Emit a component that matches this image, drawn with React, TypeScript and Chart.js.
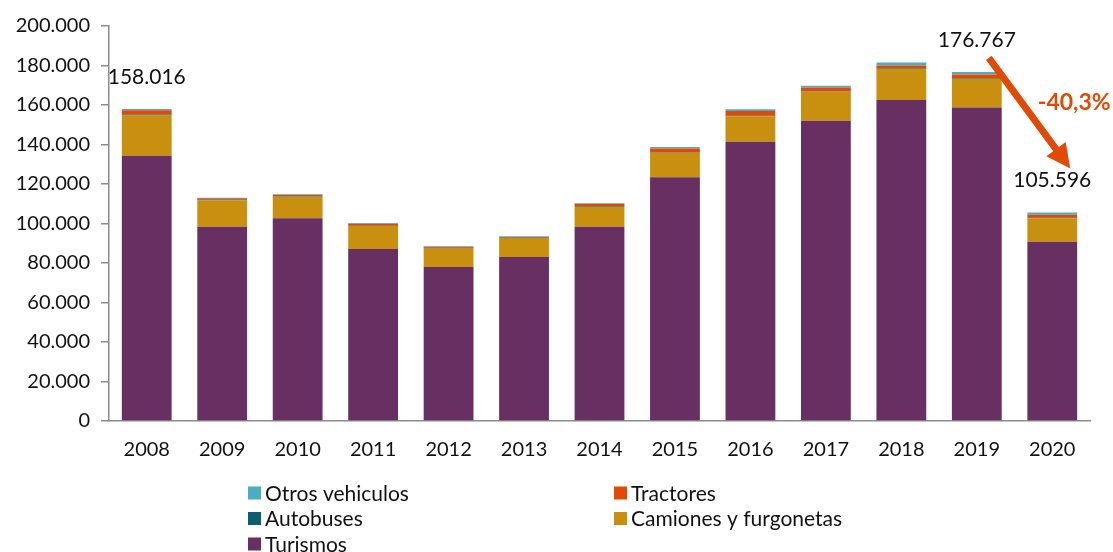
import React, { useEffect, useRef } from "react";
import { Chart, registerables } from "chart.js";

Chart.register(...registerables);

const years = ["2008", "2009", "2010", "2011", "2012", "2013", "2014", "2015", "2016", "2017", "2018", "2019", "2020"];
const turismos = [134300, 98400, 102600, 87100, 78000, 83000, 98400, 123400, 141400, 152000, 162500, 158700, 90800];
const camiones = [20400, 13400, 11000, 11600, 9600, 9700, 10100, 12400, 12900, 14800, 15800, 14600, 11800];
const autobuses = [500, 300, 200, 200, 200, 200, 300, 300, 300, 300, 400, 400, 300];
const tractores = [2100, 700, 600, 1000, 500, 400, 1100, 1900, 2300, 1700, 1300, 1800, 1500];
const otros = [716, 200, 400, 300, 200, 200, 400, 700, 1000, 1000, 1500, 1267, 1196];
const yTicks = [0, 20000, 40000, 60000, 80000, 100000, 120000, 140000, 160000, 180000, 200000];
const labelledYears = ["2008", "2019", "2020"];
const changeLabel = "-40,3%";

const COLORS = {
  turismos: "#672F62",
  camiones: "#C8900E",
  autobuses: "#0B5E6E",
  tractores: "#E04A06",
  otros: "#4BACC6",
};
const FONT = "Lato, 'Open Sans', sans-serif";

const fmt = (v: number) => String(Math.round(v)).replace(/\B(?=(\d{3})+(?!\d))/g, ".");

const legendItems = [
  { label: "Otros vehiculos", color: COLORS.otros },
  { label: "Tractores", color: COLORS.tractores },
  { label: "Autobuses", color: COLORS.autobuses },
  { label: "Camiones y furgonetas", color: COLORS.camiones },
  { label: "Turismos", color: COLORS.turismos },
];

const totals = years.map((_, i) => turismos[i] + camiones[i] + autobuses[i] + tractores[i] + otros[i]);

const overlayPlugin = {
  id: "overlay",
  afterDraw(chart: any) {
    const ctx = chart.ctx;
    const xs = chart.scales.x;
    const ys = chart.scales.y;
    ctx.save();
    ctx.font = `21px ${FONT}`;
    ctx.fillStyle = "#111";
    ctx.textAlign = "center";
    ctx.textBaseline = "middle";
    const pos: Record<string, { x: number; y: number }> = {};
    labelledYears.forEach((yr) => {
      const i = years.indexOf(yr);
      const x = xs.getPixelForValue(i);
      const y = ys.getPixelForValue(totals[i]) - 32;
      pos[yr] = { x, y };
      ctx.fillText(fmt(totals[i]), x, y);
    });
    // arrow
    const a = pos["2019"], b = pos["2020"];
    const x1 = a.x + 12, y1 = a.y + 18;
    const x2 = b.x + 18, y2 = b.y - 12;
    const ang = Math.atan2(y2 - y1, x2 - x1);
    const headLen = 24, headW = 12, shaft = 3.5;
    const bx = x2 - headLen * Math.cos(ang), by = y2 - headLen * Math.sin(ang);
    const nx = -Math.sin(ang), ny = Math.cos(ang);
    ctx.fillStyle = COLORS.tractores;
    ctx.beginPath();
    ctx.moveTo(x1 + nx * shaft, y1 + ny * shaft);
    ctx.lineTo(bx + nx * shaft, by + ny * shaft);
    ctx.lineTo(bx + nx * headW, by + ny * headW);
    ctx.lineTo(x2, y2);
    ctx.lineTo(bx - nx * headW, by - ny * headW);
    ctx.lineTo(bx - nx * shaft, by - ny * shaft);
    ctx.lineTo(x1 - nx * shaft, y1 - ny * shaft);
    ctx.closePath();
    ctx.fill();
    ctx.font = `bold 23px ${FONT}`;
    ctx.fillText(changeLabel, b.x + 22, a.y + 63);

    // legend
    ctx.textAlign = "left";
    ctx.font = `21px ${FONT}`;
    const colX = [248, 614];
    const rowY = [493, 518.5, 544];
    const box = 13;
    legendItems.forEach((it, k) => {
      const cx = colX[k % 2];
      const cy = rowY[Math.floor(k / 2)];
      ctx.fillStyle = it.color;
      ctx.fillRect(cx, cy - box / 2, box, box);
      ctx.fillStyle = "#111";
      ctx.fillText(it.label, cx + 17, cy + 1);
    });
    ctx.restore();
  },
};

export default function App() {
  const ref = useRef<HTMLCanvasElement | null>(null);
  useEffect(() => {
    if (!ref.current) return;
    const mk = (label: string, data: number[], color: string) => ({
      label,
      data,
      backgroundColor: color,
      borderWidth: 0,
      barPercentage: 0.66,
      categoryPercentage: 1,
    });
    const chart = new Chart(ref.current, {
      type: "bar",
      data: {
        labels: years,
        datasets: [
          mk("Turismos", turismos, COLORS.turismos),
          mk("Camiones y furgonetas", camiones, COLORS.camiones),
          mk("Autobuses", autobuses, COLORS.autobuses),
          mk("Tractores", tractores, COLORS.tractores),
          mk("Otros vehiculos", otros, COLORS.otros),
        ],
      },
      options: {
        responsive: false,
        animation: false,
        layout: { padding: { left: 0, right: 23, top: 26, bottom: 0 } },
        plugins: { legend: { display: false }, tooltip: { enabled: false } },
        scales: {
          x: {
            stacked: true,
            grid: { display: false },
            border: { display: true, color: "#8c8c8c", width: 1.5 },
            ticks: { color: "#111", font: { family: FONT, size: 20 }, padding: 9, maxRotation: 0 },
            afterFit: (s: any) => { s.height = 131; },
          },
          y: {
            stacked: true,
            min: 0,
            max: 200000,
            afterBuildTicks: (s: any) => { s.ticks = yTicks.map((v) => ({ value: v })); },
            grid: { display: true, drawOnChartArea: false, drawTicks: true, tickLength: 8, color: "#8c8c8c", lineWidth: 1.5 },
            border: { display: true, color: "#8c8c8c", width: 1.5 },
            ticks: { color: "#111", font: { family: FONT, size: 20 }, padding: 11, callback: (v: any) => fmt(Number(v)) },
            afterFit: (s: any) => { s.width = 109; },
          },
        },
      },
      plugins: [overlayPlugin],
    });
    return () => chart.destroy();
  }, []);
  return (
    <div style={{ position: "fixed", left: 0, top: 0, width: 1113, height: 552, background: "#fff" }}>
      <canvas ref={ref} width={1113} height={552} style={{ width: 1113, height: 552 }} />
    </div>
  );
}
